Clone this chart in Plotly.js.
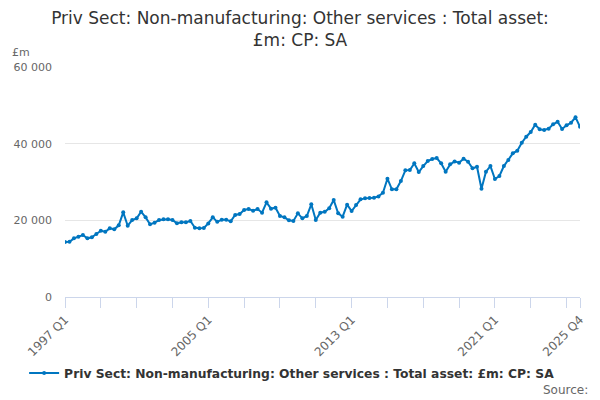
<!DOCTYPE html>
<html>
<head>
<meta charset="utf-8">
<script src="https://cdn.plot.ly/plotly-3.0.1.min.js"></script>
<style>
  html, body { margin: 0; padding: 0; background: #fff; }
  #chart { width: 600px; height: 400px; }
</style>
</head>
<body>
<div id="chart"></div>
<script>
const FIRST_YEAR = 1997;
const LAST_YEAR = 2025;

const seriesName = 'Priv Sect: Non-manufacturing: Other services : Total asset: £m: CP: SA';

// quarterly values, £m, 1997 Q1 .. 2025 Q4
const totalAssets = [
    14340, 14430, 15300, 15740, 16170, 15300, 15560, 16430,
    17290, 17030, 17910, 17650, 18700, 22090, 18600, 20080,
    20520, 22250, 20780, 18960, 19380, 20080, 20260, 20260,
    20080, 19220, 19470, 19470, 19820, 18080, 17910, 18000,
    19200, 20780, 19600, 20170, 20170, 19740, 21390, 21650,
    22690, 22950, 22510, 22950, 21990, 24690, 23040, 23300,
    21130, 20780, 20000, 19820, 21830, 20520, 21130, 24170,
    20080, 21990, 22250, 23130, 25300, 21830, 20950, 24080,
    22430, 23990, 25470, 25730, 25820, 25910, 26250, 27200,
    30860, 28090, 28090, 30250, 33040, 33120, 34860, 32600,
    34160, 35470, 35990, 36250, 34860, 32680, 34600, 35380,
    35030, 36080, 35290, 33560, 33990, 28250, 32680, 34160,
    30770, 31560, 34160, 35730, 37470, 38160, 40250, 41810,
    43030, 44940, 43730, 43560, 43900, 45040, 45720, 43820,
    44780, 45460, 46860, 44420
];

const quarters = [];
for (let y = FIRST_YEAR; y <= LAST_YEAR; y++) {
    for (let q = 1; q <= 4; q++) quarters.push(y + ' Q' + q);
}

const labelledQuarters = ['1997 Q1', '2005 Q1', '2013 Q1', '2021 Q1', '2025 Q4'];

// tick marks every two years, plus the last quarter
const tickQuarters = quarters.filter((q, i) => i % 8 === 0);
tickQuarters.push(quarters[quarters.length - 1]);
const tickText = tickQuarters.map(q => labelledQuarters.includes(q) ? q : '');

const FONT = "'DejaVu Sans', sans-serif";

Plotly.newPlot('chart', [{
    x: quarters,
    y: totalAssets,
    type: 'scatter',
    mode: 'lines+markers',
    name: seriesName,
    line: { color: '#0076c0', width: 2 },
    marker: { color: '#0076c0', size: 4 },
    hovertemplate: '%{x}: %{y:,}<extra></extra>'
}], {
    width: 600,
    height: 400,
    paper_bgcolor: '#fff',
    plot_bgcolor: '#fff',
    separators: '. ',
    font: { family: FONT, color: '#666', size: 11 },
    title: {
        text: 'Priv Sect: Non-manufacturing: Other services : Total asset:<br>£m: CP: SA',
        font: { family: FONT, size: 17, color: '#333' },
        x: 0.5, xanchor: 'center',
        y: 0.94, yanchor: 'top'
    },
    margin: { t: 67, l: 65, r: 20, b: 103, autoexpand: false },
    xaxis: {
        type: 'category',
        range: [0, quarters.length - 1],
        tickvals: tickQuarters,
        ticktext: tickText,
        tickangle: -45,
        ticks: 'outside',
        ticklen: 10,
        tickcolor: '#ccd6eb',
        showline: true,
        linecolor: '#ccd6eb',
        linewidth: 1,
        showgrid: false,
        zeroline: false,
        fixedrange: true,
        tickfont: { size: 12, color: '#666' }
    },
    yaxis: {
        range: [0, 60000],
        tickvals: [0, 20000, 40000, 60000],
        tickformat: ',',
        showgrid: true,
        gridcolor: '#e6e6e6',
        zeroline: false,
        showline: false,
        ticklabelstandoff: 12,
        fixedrange: true,
        tickfont: { size: 11, color: '#666' }
    },
    showlegend: true,
    legend: {
        orientation: 'h',
        x: 0.441, xanchor: 'center',
        y: -0.33, yanchor: 'middle',
        font: { family: FONT, size: 12.3, color: '#333', weight: 'bold' }
    },
    annotations: [
        {
            text: '£m',
            xref: 'paper', yref: 'paper',
            x: -0.107, y: 1.065,
            xanchor: 'left', yanchor: 'middle',
            showarrow: false,
            font: { size: 11, color: '#666' }
        },
        {
            text: 'Source:',
            xref: 'paper', yref: 'paper',
            x: 1.02, y: -0.405,
            xanchor: 'right', yanchor: 'middle',
            showarrow: false,
            font: { size: 12, color: '#666' }
        }
    ]
}, { displayModeBar: false, staticPlot: true });
</script>
</body>
</html>
